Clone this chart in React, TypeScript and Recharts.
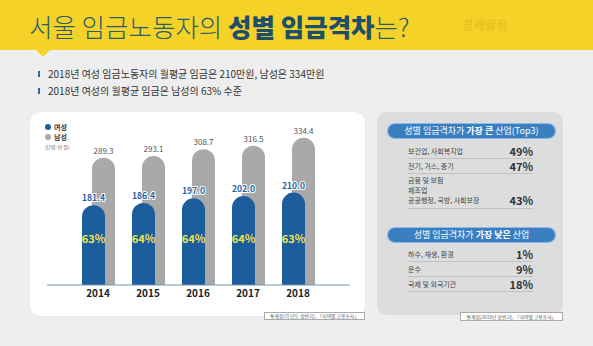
import React from 'react';
import { BarChart, Bar, XAxis, YAxis, LabelList, Legend } from 'recharts';

const years = ['2014', '2015', '2016', '2017', '2018'];
const femaleWage = [181.4, 186.4, 197.0, 202.0, 210.0];
const maleWage = [289.3, 293.1, 308.7, 316.5, 334.4];
const femaleRatio = [63, 64, 64, 64, 63];

const bulletTexts = [
  '2018년 여성 임금노동자의 월평균 임금은 210만원, 남성은 334만원',
  '2018년 여성의 월평균 임금은 남성의 63% 수준',
];

const topLabels = [['보건업, 사회복지업'], ['전기, 가스, 증기'], ['금융 및 보험', '제조업', '공공행정, 국방, 사회보장']];
const topValues = ['49%', '47%', '43%'];
const lowLabels = ['하수, 재생, 환경', '운수', '국제 및 외국기관'];
const lowValues = ['1%', '9%', '18%'];

const data = years.map((y, i) => ({ year: y, female: femaleWage[i], male: maleWage[i], ratio: femaleRatio[i] }));

const FONT = '"Noto Sans CJK KR", "Noto Sans", sans-serif';
const BLUE = '#1c5d9e';
const GRAY = '#a9a9a9';

const renderLegend = (props: any) => {
  const items = [...(props.payload || [])].reverse();
  return (
    <div style={{ fontFamily: FONT }}>
      {items.map((it: any) => (
        <div key={it.value} style={{ display: 'flex', alignItems: 'center', height: 10 }}>
          <span style={{ width: 6, height: 6, borderRadius: 3, background: it.color, marginRight: 3, display: 'inline-block' }} />
          <span style={{ fontSize: 7, fontWeight: 700, color: '#333', lineHeight: '10px' }}>{it.value}</span>
        </div>
      ))}
      <div style={{ fontSize: 4.8, color: '#555', lineHeight: '9px' }}>(단위: 만 원)</div>
    </div>
  );
};

const Pill = ({ top, children }: { top: number; children: React.ReactNode }) => (
  <div
    style={{
      position: 'absolute', left: 388, top, width: 167, height: 14, borderRadius: 7,
      background: '#3a7fc2', boxShadow: '0 0 0 1px #8fbbe2', color: '#fff', fontSize: 9,
      lineHeight: '14px', textAlign: 'center', whiteSpace: 'nowrap',
    }}
  >
    {children}
  </div>
);

export default function App() {
  return (
    <div style={{ position: 'fixed', left: 0, top: 0, width: 593, height: 346, background: '#eeeeee', overflow: 'hidden', fontFamily: FONT }}>
      {/* banner */}
      <div style={{ position: 'absolute', left: 0, top: 0, width: 593, height: 50, background: '#f5d228' }} />
      <div style={{ position: 'absolute', left: 36, top: 50, width: 0, height: 0, borderLeft: '7px solid transparent', borderRight: '7px solid transparent', borderTop: '7px solid #f5d228' }} />
      <div style={{ position: 'absolute', left: 29, top: 10, fontSize: 25.5, lineHeight: '31px', color: '#2a5d6c', whiteSpace: 'nowrap' }}>
        <span style={{ fontWeight: 300 }}>서울 임금노동자의 </span>
        <span style={{ fontWeight: 900, color: '#1d4e6b' }}>성별 임금격차</span>
        <span style={{ fontWeight: 300 }}>는?</span>
      </div>
      <div style={{ position: 'absolute', left: 462, top: 17, fontSize: 12.5, lineHeight: '16px', fontWeight: 700, color: '#e9c21e', whiteSpace: 'nowrap' }}>경제활동</div>

      {/* bullets */}
      {bulletTexts.map((t, i) => (
        <div key={i} style={{ position: 'absolute', left: 38, top: 67 + i * 16.5, height: 14, display: 'flex', alignItems: 'center', whiteSpace: 'nowrap' }}>
          <span style={{ width: 2, height: 6, background: '#2a6aa8', marginRight: 8, display: 'inline-block' }} />
          <span style={{ fontSize: 10, color: '#333', lineHeight: '14px' }}>{t}</span>
        </div>
      ))}

      {/* chart panel */}
      <div style={{ position: 'absolute', left: 30, top: 112, width: 335, height: 204, background: '#ffffff', borderRadius: 10, boxShadow: '0 0 2px rgba(0,0,0,0.06)' }}>
        <BarChart width={335} height={204} data={data} margin={{ top: 19, right: 15, bottom: 11, left: 17 }} barGap={-33} barSize={23}>
          <YAxis hide domain={[0, 350]} />
          <XAxis
            dataKey="year"
            height={20}
            padding={{ left: 26, right: 27 }}
            tickLine={false}
            tickSize={0}
            tickMargin={5}
            axisLine={{ stroke: '#7d93a8', strokeWidth: 1 }}
            tick={{ fill: '#222', fontSize: 10, fontWeight: 700, fontFamily: FONT }}
          />
          <Legend content={renderLegend} layout="vertical" align="center" verticalAlign="middle" wrapperStyle={{ left: 15, top: 10, width: 60, height: 32 }} />
          <Bar dataKey="male" name="남성" fill={GRAY} radius={[11.5, 11.5, 0, 0]} isAnimationActive={false}>
            <LabelList dataKey="male" position="top" offset={4} fill="#555" fontSize={8} fontFamily={FONT} formatter={(v: any) => Number(v).toFixed(1)} />
          </Bar>
          <Bar dataKey="female" name="여성" fill={BLUE} radius={[11.5, 11.5, 0, 0]} isAnimationActive={false}>
            <LabelList dataKey="female" position="top" offset={4} fill="#2262a6" stroke="#ffffff" strokeWidth={2} paintOrder="stroke" fontSize={8.5} fontWeight={700} fontFamily={FONT} formatter={(v: any) => Number(v).toFixed(1)} />
            <LabelList dataKey="ratio" position="insideBottom" offset={42} fill="#ece54c" fontSize={11} fontWeight={700} fontFamily={FONT} formatter={(v: any) => `${v}%`} />
          </Bar>
        </BarChart>
      </div>
      <div style={{ position: 'absolute', left: 264, top: 312, width: 101, height: 8, boxSizing: 'border-box', border: '1px solid #aaa', background: '#fff', fontSize: 4.8, lineHeight: '6px', color: '#555', textAlign: 'center', whiteSpace: 'nowrap' }}>통계청(각 년도 상반기), 「지역별 고용조사」</div>

      {/* right panel */}
      <div style={{ position: 'absolute', left: 377, top: 112, width: 186, height: 203, background: '#dddddd', borderRadius: 10 }} />
      <Pill top={124}>성별 임금격차가 <b>가장 큰</b> 산업(Top3)</Pill>
      <div style={{ position: 'absolute', left: 407, top: 144, width: 126 }}>
        {topLabels.map((lines, i) => (
          <div key={i} style={{ display: 'flex', justifyContent: 'space-between', alignItems: 'flex-end', borderBottom: '1px solid #c2c2c2', paddingTop: lines.length > 1 ? 1 : 0, paddingBottom: lines.length > 1 ? 3 : 0, height: lines.length > 1 ? 30 : 14, boxSizing: 'content-box' }}>
            <div style={{ paddingLeft: 1 }}>
              {lines.map((l) => (
                <div key={l} style={{ fontSize: 7, lineHeight: lines.length > 1 ? '10px' : '14px', color: '#444', whiteSpace: 'nowrap' }}>{l}</div>
              ))}
            </div>
            <div style={{ fontSize: 11, fontWeight: 700, color: '#333', lineHeight: lines.length > 1 ? '10px' : '14px' }}>{topValues[i]}</div>
          </div>
        ))}
      </div>
      <Pill top={228}>성별 임금격차가 <b>가장 낮은</b> 산업</Pill>
      <div style={{ position: 'absolute', left: 407, top: 247, width: 126 }}>
        {lowLabels.map((l, i) => (
          <div key={l} style={{ display: 'flex', justifyContent: 'space-between', alignItems: 'center', borderBottom: '1px solid #c2c2c2', height: 14 }}>
            <div style={{ paddingLeft: 1, fontSize: 7, color: '#444', whiteSpace: 'nowrap' }}>{l}</div>
            <div style={{ fontSize: 11, fontWeight: 700, color: '#333', lineHeight: '14px' }}>{lowValues[i]}</div>
          </div>
        ))}
      </div>
      <div style={{ position: 'absolute', left: 460, top: 312, width: 103, height: 9, boxSizing: 'border-box', border: '1px solid #aaa', background: '#fff', fontSize: 4.8, lineHeight: '7px', color: '#555', textAlign: 'center', whiteSpace: 'nowrap' }}>통계청(2018년 상반기), 「지역별 고용조사」</div>
    </div>
  );
}
